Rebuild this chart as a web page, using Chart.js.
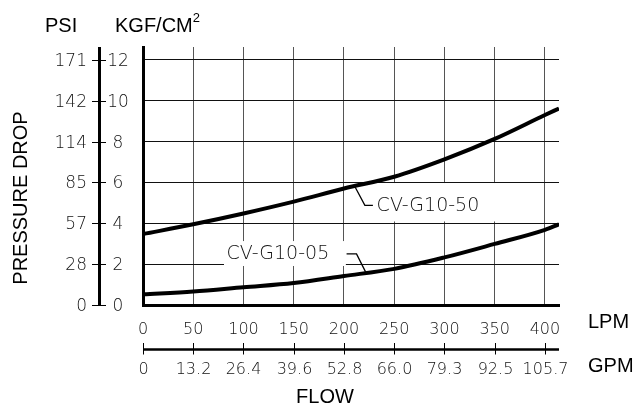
<!DOCTYPE html>
<html>
<head>
<meta charset="utf-8">
<script src="https://cdn.jsdelivr.net/npm/chart.js@4.4.1/dist/chart.umd.min.js"></script>
<style>
  html, body { margin: 0; padding: 0; background: #fff; }
  #wrap { width: 637px; height: 407px; }
</style>
</head>
<body>
<div id="wrap"><canvas id="chart" width="637" height="407"></canvas></div>
<script>
// flow in LPM, pressure drop in kgf/cm2
const flowLpm = [0, 50, 100, 150, 200, 250, 300, 350, 400, 414];
const cvG1050 = [3.47, 3.95, 4.48, 5.06, 5.70, 6.28, 7.13, 8.13, 9.30, 9.62];
const cvG1005 = [0.52, 0.66, 0.87, 1.08, 1.42, 1.77, 2.33, 2.99, 3.68, 3.95];

// axis ticks
const lpmTicks = [0, 50, 100, 150, 200, 250, 300, 350, 400];
const gpmLabels = ["0", "13.2", "26.4", "39.6", "52.8", "66.0", "79.3", "92.5", "105.7"];
const kgfTicks = [0, 2, 4, 6, 8, 10, 12];
const psiLabels = ["0", "28", "57", "85", "114", "142", "171"];

const CAD = '200 16px "DejaVu Sans"';
const CAD_BIG = '200 17px "DejaVu Sans"';
const CAD_TAG = '200 19px "DejaVu Sans"';
const ARIAL = '20px "Liberation Sans", Arial, sans-serif';

// curve names with their leader lines (in chart units: LPM / kgf)
const tags = [
  { text: "CV-G10-50", at: [232.5, 4.85], box: [228.8, 5.97, 352, 4.09],
    lead: [[210.8, 5.80], [220.8, 4.88], [228.8, 4.88]] },
  { text: "CV-G10-05", at: [83.2, 2.50], box: [80.6, 3.13, 201.9, 1.91],
    lead: [[202.6, 2.50], [212.5, 2.50], [221.5, 1.62]] }
];

const extras = {
  id: "extras",
  beforeDatasetsDraw(chart) {
    const { ctx, scales: { x, y } } = chart;
    ctx.save();
    ctx.fillStyle = "#fff";
    tags.forEach(t => {
      const x0 = x.getPixelForValue(t.box[0]), y0 = y.getPixelForValue(t.box[1]);
      const x1 = x.getPixelForValue(t.box[2]), y1 = y.getPixelForValue(t.box[3]);
      ctx.fillRect(x0, y0, x1 - x0, y1 - y0);
    });
    ctx.restore();
  },
  afterDraw(chart) {
    const { ctx, scales: { x, y } } = chart;
    ctx.save();
    ctx.strokeStyle = "#000";
    ctx.fillStyle = "#111";

    // curve names
    ctx.font = CAD_TAG;
    ctx.textAlign = "left";
    ctx.textBaseline = "middle";
    tags.forEach(t => {
      ctx.fillText(t.text, x.getPixelForValue(t.at[0]), y.getPixelForValue(t.at[1]));
      ctx.lineWidth = 1.3;
      ctx.beginPath();
      t.lead.forEach((p, i) => {
        const px = x.getPixelForValue(p[0]), py = y.getPixelForValue(p[1]);
        if (i === 0) ctx.moveTo(px, py); else ctx.lineTo(px, py);
      });
      ctx.stroke();
    });

    // left pressure scale: PSI | axis | KGF/CM2
    const axX = 99.5;
    ctx.lineWidth = 3;
    ctx.beginPath();
    ctx.moveTo(axX, y.top);
    ctx.lineTo(axX, y.bottom + 1);
    ctx.stroke();
    ctx.lineWidth = 1;
    ctx.font = CAD_BIG;
    kgfTicks.forEach((v, i) => {
      const py = Math.round(y.getPixelForValue(v)) + 0.5;
      ctx.beginPath();
      ctx.moveTo(92, py);
      ctx.lineTo(106, py);
      ctx.stroke();
      ctx.textAlign = "right";
      ctx.fillText(psiLabels[i], 87, py + 1);
      ctx.textAlign = "center";
      ctx.fillText(String(v), 118, py + 1);
    });

    // second flow scale in GPM
    const gy = 349.5;
    ctx.lineWidth = 2.5;
    ctx.beginPath();
    ctx.moveTo(x.left, gy);
    ctx.lineTo(x.right, gy);
    ctx.stroke();
    ctx.lineWidth = 1;
    ctx.font = CAD;
    ctx.textAlign = "center";
    lpmTicks.forEach((v, i) => {
      const px = Math.round(x.getPixelForValue(v)) + 0.5;
      ctx.beginPath();
      ctx.moveTo(px, gy - 6.5);
      ctx.lineTo(px, gy + 5);
      ctx.stroke();
      ctx.fillText(gpmLabels[i], px, 370);
    });

    // titles
    ctx.fillStyle = "#000";
    ctx.font = ARIAL;
    ctx.textAlign = "left";
    ctx.fillText("PSI", 45, 26);
    ctx.fillText("KGF/CM", 115, 26);
    const w = ctx.measureText("KGF/CM").width;
    ctx.font = '13px "Liberation Sans", Arial, sans-serif';
    ctx.fillText("2", 115 + w, 18);
    ctx.font = ARIAL;
    ctx.fillText("LPM", 588, 322);
    ctx.fillText("GPM", 588, 366);
    ctx.textAlign = "center";
    ctx.fillText("FLOW", 325, 397);
    ctx.translate(21, 198);
    ctx.rotate(-Math.PI / 2);
    ctx.fillText("PRESSURE DROP", 0, 0);
    ctx.restore();
  }
};

new Chart(document.getElementById("chart"), {
  type: "line",
  data: {
    labels: flowLpm,
    datasets: [
      { label: "CV-G10-50", data: flowLpm.map((f, i) => ({ x: f, y: cvG1050[i] })) },
      { label: "CV-G10-05", data: flowLpm.map((f, i) => ({ x: f, y: cvG1005[i] })) }
    ]
  },
  options: {
    responsive: false,
    animation: false,
    devicePixelRatio: 1,
    layout: { padding: { left: 143, right: 78, top: 47, bottom: 72 } },
    elements: {
      line: { borderColor: "#000", borderWidth: 4, cubicInterpolationMode: "monotone" },
      point: { radius: 0 }
    },
    plugins: { legend: { display: false }, tooltip: { enabled: false } },
    scales: {
      x: {
        type: "linear",
        min: 0,
        max: 414,
        afterBuildTicks: s => { s.ticks = lpmTicks.map(v => ({ value: v })); },
        afterFit: s => { s.height = 30; },
        grid: { color: "#555", lineWidth: 1, drawTicks: false },
        border: { color: "#000", width: 3 },
        ticks: {
          padding: 15,
          color: "#111",
          maxRotation: 0,
          autoSkip: false,
          font: { family: "DejaVu Sans", size: 16, weight: "200" }
        }
      },
      y: {
        min: 0,
        max: 12.63,
        afterBuildTicks: s => { s.ticks = kgfTicks.map(v => ({ value: v })); },
        afterFit: s => { s.width = 0; },
        grid: { color: "#111", lineWidth: 1, drawTicks: false },
        border: { color: "#000", width: 3 },
        ticks: { display: false }
      }
    }
  },
  plugins: [extras]
});
</script>
</body>
</html>
